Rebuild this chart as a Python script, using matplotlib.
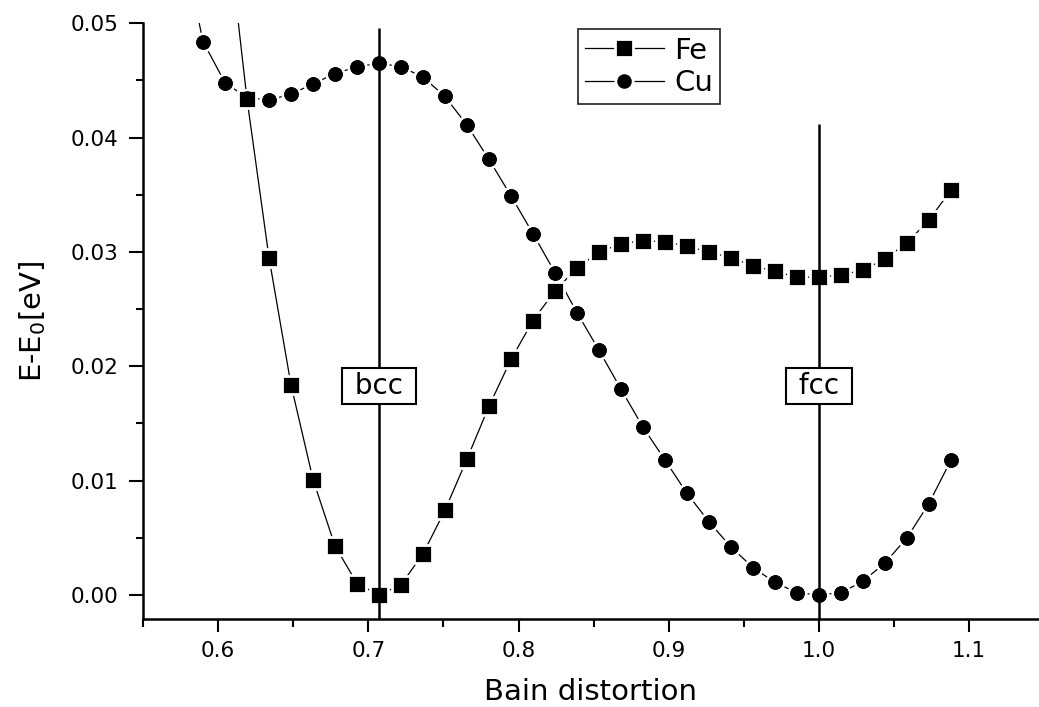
import matplotlib
matplotlib.use('Agg')
import matplotlib.pyplot as plt
from matplotlib.ticker import MultipleLocator, FormatStrFormatter

plt.rcParams['font.family'] = ['DejaVu Sans']
plt.rcParams['mathtext.default'] = 'regular'

# Bain distortion grid (bcc at 1/sqrt(2), fcc at 1)
bain = [0.5753, 0.5900, 0.6046, 0.6192, 0.6339, 0.6485, 0.6632, 0.6778, 0.6925,
        0.7071, 0.7218, 0.7364, 0.7510, 0.7657, 0.7803, 0.7950, 0.8096, 0.8243,
        0.8389, 0.8536, 0.8682, 0.8828, 0.8975, 0.9121, 0.9268, 0.9414, 0.9561,
        0.9707, 0.9854, 1.0000, 1.0146, 1.0293, 1.0439, 1.0586, 1.0732, 1.0879]

cu_energy = [0.0575, 0.0484, 0.0448, 0.0435, 0.0433, 0.0438, 0.0447, 0.0456, 0.0462,
             0.0465, 0.0462, 0.0453, 0.0436, 0.0411, 0.0381, 0.0349, 0.0316, 0.0282,
             0.0247, 0.0214, 0.0180, 0.0147, 0.0118, 0.0089, 0.0064, 0.0042, 0.0024,
             0.0011, 0.0002, 0.0000, 0.0002, 0.0012, 0.0028, 0.0050, 0.0080, 0.0118]

fe_bain = bain[2:]
fe_energy = [0.0603, 0.0434, 0.0295, 0.0184, 0.0101, 0.0043, 0.0010,
             0.0000, 0.0009, 0.0036, 0.0074, 0.0119, 0.0165, 0.0206, 0.0240, 0.0266,
             0.0286, 0.0300, 0.0307, 0.0310, 0.0309, 0.0305, 0.0300, 0.0295, 0.0288,
             0.0283, 0.0278, 0.0278, 0.0280, 0.0284, 0.0294, 0.0308, 0.0328, 0.0354]

# phase markers
phase_names = ['bcc', 'fcc']
phase_x = [0.7071, 1.0]
phase_top = [0.0496, 0.0412]
phase_label_y = 0.0183

ymin, ymax = -0.0021, 0.05

fig = plt.figure(figsize=(10.39, 7.07), dpi=100)
ax = fig.add_axes([143 / 1039, 88 / 707, 896 / 1039, 595.7 / 707])

# lines with a white halo round each symbol (gap like the original)
ax.plot(bain, cu_energy, '-', color='black', lw=0.9, marker='o', ms=12.5,
        mfc='black', mec='white', mew=2, label='Cu', zorder=2)
ax.plot(fe_bain, fe_energy, '-', color='black', lw=0.9, marker='s', ms=12.5,
        mfc='black', mec='white', mew=2, label='Fe', zorder=2.1)

# vertical phase lines
ax.vlines(phase_x, ymin, phase_top, color='black', lw=1.8, zorder=2.5)

# black symbols on top again
ax.plot(bain, cu_energy, ls='none', marker='o', ms=10.5, mfc='black', mec='none', zorder=3)
ax.plot(fe_bain, fe_energy, ls='none', marker='s', ms=10.5, mfc='black', mec='none', zorder=3.1)

for name, px in zip(phase_names, phase_x):
    ax.text(px, phase_label_y, ' ' + name + ' ', fontsize=20, ha='center', va='center',
            zorder=4, bbox=dict(boxstyle='square,pad=0.15', fc='white', ec='black', lw=1.5))

ax.set_xlim(0.55, 1.1465)
ax.set_ylim(ymin, ymax)

ax.spines['top'].set_visible(False)
ax.spines['right'].set_visible(False)
ax.spines['left'].set_linewidth(1.8)
ax.spines['bottom'].set_linewidth(1.8)

ax.xaxis.set_major_locator(MultipleLocator(0.1))
ax.xaxis.set_minor_locator(MultipleLocator(0.05))
ax.yaxis.set_major_locator(MultipleLocator(0.01))
ax.yaxis.set_minor_locator(MultipleLocator(0.005))
ax.xaxis.set_major_formatter(FormatStrFormatter('%.1f'))
ax.yaxis.set_major_formatter(FormatStrFormatter('%.2f'))

ax.tick_params(which='both', direction='out', width=1.5, labelsize=15.5)
ax.tick_params(axis='y', which='major', length=10, pad=8)
ax.tick_params(axis='y', which='minor', length=5)
ax.tick_params(axis='x', which='major', length=9, pad=7)
ax.tick_params(axis='x', which='minor', length=6)

ax.set_xlabel('Bain distortion', fontsize=21, labelpad=12)
ax.set_ylabel('E-E$_0$[eV]', fontsize=21, labelpad=16)

handles, labels = ax.get_legend_handles_labels()
leg = ax.legend(handles[::-1], labels[::-1], loc='upper left',
                bbox_to_anchor=((577.7 - 143) / 896, 1 - 6 / 595.7),
                borderaxespad=0, fontsize=21, frameon=True, fancybox=False,
                handlelength=2.7, handletextpad=0.35, labelspacing=0.15,
                borderpad=0.25)
leg.get_frame().set_edgecolor('black')
leg.get_frame().set_linewidth(1.3)

fig.savefig('out.png', dpi=100)
